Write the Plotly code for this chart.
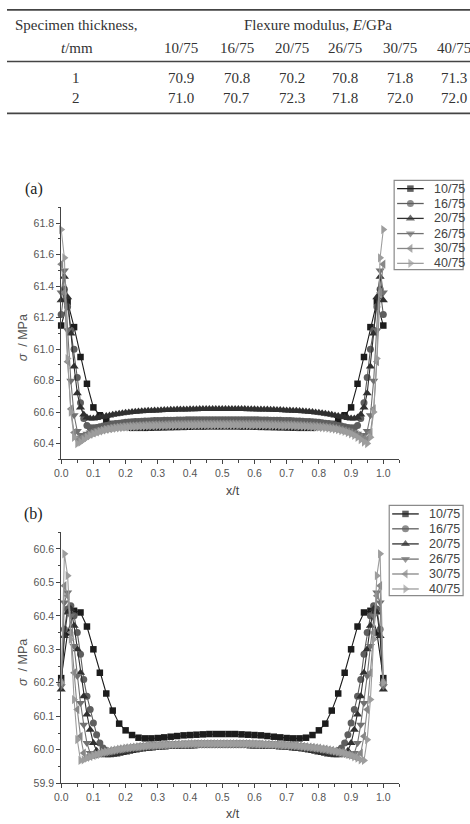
import plotly.graph_objects as go

# ---------------- table data ----------------
TABLE_COLS = ["10/75", "16/75", "20/75", "26/75", "30/75", "40/75"]
TABLE_ROWS = ["1", "2"]
TABLE_VALS = [
    ["70.9", "70.8", "70.2", "70.8", "71.8", "71.3"],
    ["71.0", "70.7", "72.3", "71.8", "72.0", "72.0"],
]

SERIES = ["10/75", "16/75", "20/75", "26/75", "30/75", "40/75"]

# sampling positions (x/t)
X_COARSE = [round(i * 0.02, 2) for i in range(51)]
X_FINE = [round(i * 0.01, 2) for i in range(101)]

# ---------------- panel (a) ----------------
A10 = [61.15, 61.30, 61.14, 60.95, 60.78, 60.63, 60.58, 60.545, 60.525, 60.512,
       60.505, 60.50, 60.50, 60.50, 60.501, 60.502, 60.503, 60.504, 60.505, 60.506,
       60.507, 60.508, 60.508, 60.509, 60.509, 60.509,
       60.509, 60.509, 60.508, 60.508, 60.507, 60.506, 60.505, 60.504, 60.503, 60.502,
       60.501, 60.50, 60.50, 60.50, 60.505, 60.512, 60.525, 60.545, 60.58, 60.63,
       60.78, 60.95, 61.14, 61.30, 61.15]

A16 = [61.22, 61.38, 61.27, 61.12, 61.00, 60.82, 60.66, 60.56, 60.515, 60.50, 60.50,
       60.503, 60.507, 60.511, 60.515, 60.519, 60.523, 60.527, 60.530, 60.533, 60.535,
       60.537, 60.539, 60.540, 60.541, 60.542, 60.543, 60.544, 60.545, 60.546, 60.547,
       60.547, 60.548, 60.548, 60.549, 60.549, 60.550, 60.550, 60.550, 60.551, 60.551,
       60.551, 60.551, 60.552, 60.552, 60.552, 60.552, 60.552, 60.552, 60.552, 60.552,
       60.552, 60.552, 60.552, 60.552, 60.552, 60.552, 60.552, 60.551, 60.551, 60.551,
       60.551, 60.550, 60.550, 60.550, 60.549, 60.549, 60.548, 60.548, 60.547, 60.547,
       60.546, 60.545, 60.544, 60.543, 60.542, 60.541, 60.540, 60.539, 60.537, 60.535,
       60.533, 60.530, 60.527, 60.523, 60.519, 60.515, 60.511, 60.507, 60.503, 60.50,
       60.50, 60.515, 60.56, 60.66, 60.82, 61.00, 61.12, 61.27, 61.38, 61.22]

A20 = [61.31, 61.46, 61.33, 61.10, 60.89, 60.72, 60.63, 60.585, 60.565, 60.56, 60.56,
       60.563, 60.567, 60.571, 60.575, 60.579, 60.583, 60.587, 60.590, 60.593, 60.596,
       60.598, 60.600, 60.602, 60.604, 60.606, 60.607, 60.608, 60.609, 60.610, 60.611,
       60.612, 60.613, 60.614, 60.615, 60.615, 60.616, 60.616, 60.617, 60.617, 60.618,
       60.618, 60.618, 60.619, 60.619, 60.619, 60.619, 60.620, 60.620, 60.620, 60.620,
       60.620, 60.620, 60.620, 60.619, 60.619, 60.619, 60.619, 60.618, 60.618, 60.618,
       60.617, 60.617, 60.616, 60.616, 60.615, 60.615, 60.614, 60.613, 60.612, 60.611,
       60.610, 60.609, 60.608, 60.607, 60.606, 60.604, 60.602, 60.600, 60.598, 60.596,
       60.593, 60.590, 60.587, 60.583, 60.579, 60.575, 60.571, 60.567, 60.563, 60.56,
       60.56, 60.565, 60.585, 60.63, 60.72, 60.89, 61.10, 61.33, 61.46, 61.31]

A26 = [61.36, 61.50, 61.12, 60.80, 60.58, 60.48, 60.455, 60.455, 60.462, 60.47, 60.477,
       60.484, 60.490, 60.495, 60.500, 60.504, 60.507, 60.510, 60.513, 60.515, 60.517,
       60.519, 60.521, 60.522, 60.524, 60.525, 60.526, 60.527, 60.528, 60.529, 60.530,
       60.531, 60.531, 60.532, 60.532, 60.533, 60.533, 60.534, 60.534, 60.534, 60.535,
       60.535, 60.535, 60.535, 60.536, 60.536, 60.536, 60.536, 60.536, 60.536, 60.536,
       60.536, 60.536, 60.536, 60.536, 60.536, 60.536, 60.535, 60.535, 60.535, 60.535,
       60.534, 60.534, 60.534, 60.533, 60.533, 60.532, 60.532, 60.531, 60.531, 60.530,
       60.529, 60.528, 60.527, 60.526, 60.525, 60.524, 60.522, 60.521, 60.519, 60.517,
       60.515, 60.513, 60.510, 60.507, 60.504, 60.500, 60.495, 60.490, 60.484, 60.477,
       60.47, 60.462, 60.455, 60.455, 60.48, 60.58, 60.80, 61.12, 61.50, 61.36]

A30 = [61.54, 61.36, 60.92, 60.62, 60.47, 60.43, 60.43, 60.44, 60.45, 60.46, 60.468,
       60.475, 60.481, 60.487, 60.492, 60.496, 60.500, 60.503, 60.506, 60.508, 60.510,
       60.512, 60.513, 60.514, 60.515, 60.516, 60.517, 60.518, 60.519, 60.520, 60.520,
       60.521, 60.521, 60.522, 60.522, 60.523, 60.523, 60.523, 60.524, 60.524, 60.524,
       60.525, 60.525, 60.525, 60.525, 60.526, 60.526, 60.526, 60.526, 60.526, 60.526,
       60.526, 60.526, 60.526, 60.526, 60.526, 60.525, 60.525, 60.525, 60.525, 60.524,
       60.524, 60.524, 60.523, 60.523, 60.523, 60.522, 60.522, 60.521, 60.521, 60.520,
       60.520, 60.519, 60.518, 60.517, 60.516, 60.515, 60.514, 60.513, 60.512, 60.510,
       60.508, 60.506, 60.503, 60.500, 60.496, 60.492, 60.487, 60.481, 60.475, 60.468,
       60.46, 60.45, 60.44, 60.43, 60.43, 60.47, 60.62, 60.92, 61.36, 61.54]

A40 = [61.76, 61.58, 60.94, 60.60, 60.44, 60.40, 60.41, 60.425, 60.44, 60.452, 60.462,
       60.470, 60.477, 60.483, 60.488, 60.492, 60.495, 60.498, 60.500, 60.502, 60.504,
       60.505, 60.506, 60.507, 60.508, 60.509, 60.510, 60.511, 60.511, 60.512, 60.512,
       60.513, 60.513, 60.514, 60.514, 60.514, 60.515, 60.515, 60.515, 60.516, 60.516,
       60.516, 60.516, 60.517, 60.517, 60.517, 60.517, 60.517, 60.517, 60.517, 60.517,
       60.517, 60.517, 60.517, 60.517, 60.517, 60.517, 60.517, 60.516, 60.516, 60.516,
       60.516, 60.515, 60.515, 60.515, 60.514, 60.514, 60.514, 60.513, 60.513, 60.512,
       60.512, 60.511, 60.511, 60.510, 60.509, 60.508, 60.507, 60.506, 60.505, 60.504,
       60.502, 60.500, 60.498, 60.495, 60.492, 60.488, 60.483, 60.477, 60.470, 60.462,
       60.452, 60.44, 60.425, 60.41, 60.40, 60.44, 60.60, 60.94, 61.58, 61.76]

# ---------------- panel (b) ----------------
B10 = [60.214, 60.35, 60.415, 60.41, 60.368, 60.30, 60.23, 60.168, 60.117, 60.078,
       60.058, 60.044, 60.036, 60.034, 60.034, 60.035, 60.037, 60.039, 60.041, 60.043,
       60.044, 60.045, 60.046, 60.047, 60.047, 60.047,
       60.047, 60.047, 60.046, 60.045, 60.044, 60.043, 60.041, 60.039, 60.037, 60.035,
       60.034, 60.034, 60.036, 60.044, 60.058, 60.078, 60.117, 60.168, 60.23, 60.30,
       60.368, 60.41, 60.415, 60.35, 60.214]

B16 = [60.20, 60.36, 60.42, 60.43, 60.40, 60.35, 60.285, 60.21, 60.16, 60.12, 60.08,
       60.045, 60.02, 60.005, 59.998, 59.995, 59.995, 59.996, 59.998, 60.000, 60.002,
       60.004, 60.005, 60.007, 60.008, 60.009, 60.010, 60.011, 60.012, 60.013, 60.013,
       60.014, 60.014, 60.015, 60.015, 60.016, 60.016, 60.016, 60.017, 60.017, 60.017,
       60.017, 60.018, 60.018, 60.018, 60.018, 60.018, 60.018, 60.018, 60.018, 60.018,
       60.018, 60.018, 60.018, 60.018, 60.018, 60.018, 60.018, 60.018, 60.017, 60.017,
       60.017, 60.017, 60.016, 60.016, 60.016, 60.015, 60.015, 60.014, 60.014, 60.013,
       60.013, 60.012, 60.011, 60.010, 60.009, 60.008, 60.007, 60.005, 60.004, 60.002,
       60.000, 59.998, 59.996, 59.995, 59.995, 59.998, 60.005, 60.02, 60.045, 60.08,
       60.12, 60.16, 60.21, 60.285, 60.35, 60.40, 60.43, 60.42, 60.36, 60.20]

B20 = [60.18, 60.34, 60.41, 60.42, 60.37, 60.30, 60.23, 60.16, 60.105, 60.06, 60.02,
       59.997, 59.988, 59.985, 59.984, 59.984, 59.985, 59.986, 59.988, 59.990, 59.992,
       59.994, 59.996, 59.998, 60.000, 60.001, 60.002, 60.003, 60.004, 60.005, 60.006,
       60.007, 60.007, 60.008, 60.008, 60.009, 60.009, 60.009, 60.010, 60.010, 60.010,
       60.010, 60.011, 60.011, 60.011, 60.011, 60.011, 60.011, 60.011, 60.011, 60.011,
       60.011, 60.011, 60.011, 60.011, 60.011, 60.011, 60.011, 60.011, 60.010, 60.010,
       60.010, 60.010, 60.009, 60.009, 60.009, 60.008, 60.008, 60.007, 60.007, 60.006,
       60.005, 60.004, 60.003, 60.002, 60.001, 60.000, 59.998, 59.996, 59.994, 59.992,
       59.990, 59.988, 59.986, 59.985, 59.984, 59.984, 59.985, 59.988, 59.997, 60.02,
       60.06, 60.105, 60.16, 60.23, 60.30, 60.37, 60.42, 60.41, 60.34, 60.18]

B26 = [60.19, 60.44, 60.47, 60.40, 60.31, 60.22, 60.14, 60.075, 60.02, 59.99, 59.985,
       59.985, 59.987, 59.989, 59.991, 59.993, 59.995, 59.997, 59.999, 60.000, 60.002,
       60.003, 60.005, 60.006, 60.007, 60.008, 60.009, 60.010, 60.011, 60.011, 60.012,
       60.012, 60.013, 60.013, 60.014, 60.014, 60.014, 60.015, 60.015, 60.015, 60.015,
       60.016, 60.016, 60.016, 60.016, 60.016, 60.016, 60.016, 60.016, 60.016, 60.016,
       60.016, 60.016, 60.016, 60.016, 60.016, 60.016, 60.016, 60.016, 60.016, 60.015,
       60.015, 60.015, 60.015, 60.014, 60.014, 60.014, 60.013, 60.013, 60.012, 60.012,
       60.011, 60.011, 60.010, 60.009, 60.008, 60.007, 60.006, 60.005, 60.003, 60.002,
       60.000, 59.999, 59.997, 59.995, 59.993, 59.991, 59.989, 59.987, 59.985, 59.985,
       59.99, 60.02, 60.075, 60.14, 60.22, 60.31, 60.40, 60.47, 60.44, 60.19]

B30 = [60.20, 60.49, 60.46, 60.35, 60.23, 60.12, 60.04, 59.99, 59.978, 59.98, 59.983,
       59.986, 59.989, 59.992, 59.994, 59.996, 59.998, 60.000, 60.002, 60.003, 60.005,
       60.006, 60.007, 60.008, 60.009, 60.010, 60.011, 60.012, 60.012, 60.013, 60.013,
       60.014, 60.014, 60.015, 60.015, 60.015, 60.016, 60.016, 60.016, 60.016, 60.017,
       60.017, 60.017, 60.017, 60.017, 60.017, 60.017, 60.017, 60.017, 60.017, 60.017,
       60.017, 60.017, 60.017, 60.017, 60.017, 60.017, 60.017, 60.017, 60.017, 60.017,
       60.016, 60.016, 60.016, 60.016, 60.015, 60.015, 60.015, 60.014, 60.014, 60.013,
       60.013, 60.012, 60.012, 60.011, 60.010, 60.009, 60.008, 60.007, 60.006, 60.005,
       60.003, 60.002, 60.000, 59.998, 59.996, 59.994, 59.992, 59.989, 59.986, 59.983,
       59.98, 59.978, 59.99, 60.04, 60.12, 60.23, 60.35, 60.46, 60.49, 60.20]

B40 = [60.20, 60.585, 60.52, 60.33, 60.15, 60.03, 59.968, 59.97, 59.975, 59.979, 59.983,
       59.986, 59.989, 59.992, 59.994, 59.996, 59.998, 60.000, 60.002, 60.003, 60.005,
       60.006, 60.007, 60.008, 60.009, 60.010, 60.011, 60.012, 60.013, 60.013, 60.014,
       60.014, 60.015, 60.015, 60.016, 60.016, 60.016, 60.017, 60.017, 60.017, 60.018,
       60.018, 60.018, 60.018, 60.018, 60.018, 60.018, 60.018, 60.018, 60.018, 60.018,
       60.018, 60.018, 60.018, 60.018, 60.018, 60.018, 60.018, 60.018, 60.018, 60.018,
       60.017, 60.017, 60.017, 60.016, 60.016, 60.016, 60.015, 60.015, 60.014, 60.014,
       60.013, 60.013, 60.012, 60.011, 60.010, 60.009, 60.008, 60.007, 60.006, 60.005,
       60.003, 60.002, 60.000, 59.998, 59.996, 59.994, 59.992, 59.989, 59.986, 59.983,
       59.979, 59.975, 59.97, 59.968, 60.03, 60.15, 60.33, 60.52, 60.585, 60.20]

PANEL_A = [(X_COARSE, A10), (X_FINE, A16), (X_FINE, A20), (X_FINE, A26), (X_FINE, A30), (X_FINE, A40)]
PANEL_B = [(X_COARSE, B10), (X_FINE, B16), (X_FINE, B20), (X_FINE, B26), (X_FINE, B30), (X_FINE, B40)]

# ---------------- styles ----------------
SYMBOLS = ["square", "circle", "triangle-up", "triangle-down", "triangle-left", "triangle-right"]
COLORS = ["#1c1c1c", "#5e5e5e", "#303030", "#717171", "#878787", "#9d9d9d"]
SIZES = [6.5, 7, 8, 8, 8, 8]

W, H = 470, 824
def px(x): return x / W
def py(y): return 1 - y / H

fig = go.Figure()

for panel, xa, ya in [(PANEL_A, "x", "y"), (PANEL_B, "x2", "y2")]:
    for i, (xs, ys) in enumerate(panel):
        fig.add_trace(go.Scatter(
            x=xs, y=ys, mode="lines+markers", xaxis=xa, yaxis=ya,
            name=SERIES[i], showlegend=False, cliponaxis=False,
            line=dict(color=COLORS[i], width=1.1),
            marker=dict(symbol=SYMBOLS[i], size=SIZES[i], color=COLORS[i], line=dict(width=0)),
        ))

# manual legends drawn on a pixel-space helper axis
LEG = [
    dict(x0=396, x1=423, tx=431, ys=[190, 205, 220, 235.3, 250.3, 265.3], box=(393, 181.7, 463, 271.7)),
    dict(x0=391, x1=418, tx=426.7, ys=[517.7, 532.7, 547.9, 563.2, 578.2, 593.3], box=(388, 509, 463, 600)),
]
annotations = []
shapes = []
for lg in LEG:
    for i, yy in enumerate(lg["ys"]):
        xm = (lg["x0"] + lg["x1"]) / 2
        fig.add_trace(go.Scatter(
            x=[lg["x0"], xm, lg["x1"]], y=[yy, yy, yy], mode="lines+markers",
            xaxis="x3", yaxis="y3", showlegend=False, hoverinfo="skip", cliponaxis=False,
            line=dict(color=COLORS[i], width=1.3),
            marker=dict(symbol=SYMBOLS[i], size=[0, SIZES[i], 0], color=COLORS[i], line=dict(width=0)),
        ))
        annotations.append(dict(x=px(lg["tx"]), y=py(yy), xref="paper", yref="paper",
                                text=SERIES[i], showarrow=False, xanchor="left", yanchor="middle",
                                font=dict(family="Liberation Sans, Arial", size=12.5, color="#444")))
    bx0, by0, bx1, by1 = lg["box"]
    shapes.append(dict(type="rect", xref="paper", yref="paper", x0=px(bx0), x1=px(bx1),
                       y0=py(by0), y1=py(by1), line=dict(color="#8a8a8a", width=1.2)))

# table
SERIF = "Liberation Serif, Times New Roman, serif"
TCOL = "#333"
for yy, wdt in [(10, 1.8), (62, 1.5), (114.3, 1.8)]:
    shapes.append(dict(type="line", xref="paper", yref="paper", x0=0, x1=1, y0=py(yy), y1=py(yy),
                       line=dict(color="#444", width=wdt)))
col_x = [177, 233, 289, 343.5, 398.5, 453.5]
def tann(x, y, text):
    annotations.append(dict(x=px(x), y=py(y), xref="paper", yref="paper", text=text, showarrow=False,
                            xanchor="center", yanchor="middle", font=dict(family=SERIF, size=15, color=TCOL)))
tann(70, 25, "Specimen thickness,")
tann(71, 48, "<i>t</i>/mm")
tann(316, 25, "Flexure modulus, <i>E</i>/GPa")
for cx, c in zip(col_x, TABLE_COLS):
    tann(cx, 48, c)
for ry, rlab, rvals in zip([78.3, 99], TABLE_ROWS, TABLE_VALS):
    tann(70, ry, rlab)
    for cx, v in zip(col_x, rvals):
        tann(cx, ry, v)

# panel labels and axis titles
for lab, yy in [("(a)", 190.7), ("(b)", 518)]:
    annotations.append(dict(x=px(27), y=py(yy), xref="paper", yref="paper", text=lab, showarrow=False,
                            xanchor="center", yanchor="middle", font=dict(family=SERIF, size=16, color="#222")))
SANS = "Liberation Sans, Arial, sans-serif"
for yy in [495, 820]:
    annotations.append(dict(x=px(229), y=py(yy), xref="paper", yref="paper", text="x/t", showarrow=False,
                            xanchor="center", yanchor="middle", font=dict(family=SANS, size=12.5, color="#444")))
for yy in [340, 667]:
    annotations.append(dict(x=px(16), y=py(yy), xref="paper", yref="paper", text="<i>σ</i>  / MPa",
                            showarrow=False, textangle=-90, xanchor="center", yanchor="middle",
                            font=dict(family=SANS, size=12.5, color="#555")))

AX = dict(showline=True, linecolor="#444", linewidth=1.1, ticks="outside", ticklen=4, tickwidth=1,
          tickcolor="#444", showgrid=False, zeroline=False, tickformat=".1f",
          tickfont=dict(family=SANS, size=10.5, color="#555"), fixedrange=True)
xdom = [px(55), px(55 + 1.05 * 327)]
fig.update_layout(
    width=W, height=H, margin=dict(l=0, r=0, t=0, b=0),
    paper_bgcolor="white", plot_bgcolor="rgba(0,0,0,0)", showlegend=False,
    xaxis=dict(AX, domain=xdom, range=[0, 1.05], tick0=0, dtick=0.1, anchor="y",
               minor=dict(ticks="outside", ticklen=2.5, dtick=0.05, tick0=0, tickcolor="#444")),
    yaxis=dict(AX, domain=[py(462.7), py(209)], range=[60.3, 61.9], tick0=60.4, dtick=0.2, anchor="x",
               minor=dict(ticks="outside", ticklen=2.5, dtick=0.1, tick0=60.3, tickcolor="#444")),
    xaxis2=dict(AX, domain=xdom, range=[0, 1.05], tick0=0, dtick=0.1, anchor="y2",
                minor=dict(ticks="outside", ticklen=2.5, dtick=0.05, tick0=0, tickcolor="#444")),
    yaxis2=dict(AX, domain=[py(789), py(536)], range=[59.9, 60.65], tick0=59.9, dtick=0.1, anchor="x2",
                minor=dict(ticks="outside", ticklen=2.5, dtick=0.05, tick0=59.9, tickcolor="#444")),
    xaxis3=dict(domain=[0, 1], range=[0, W], visible=False, fixedrange=True, anchor="y3"),
    yaxis3=dict(domain=[0, 1], range=[H, 0], visible=False, fixedrange=True, anchor="x3"),
    annotations=annotations, shapes=shapes,
)

fig.write_html("out.html")
